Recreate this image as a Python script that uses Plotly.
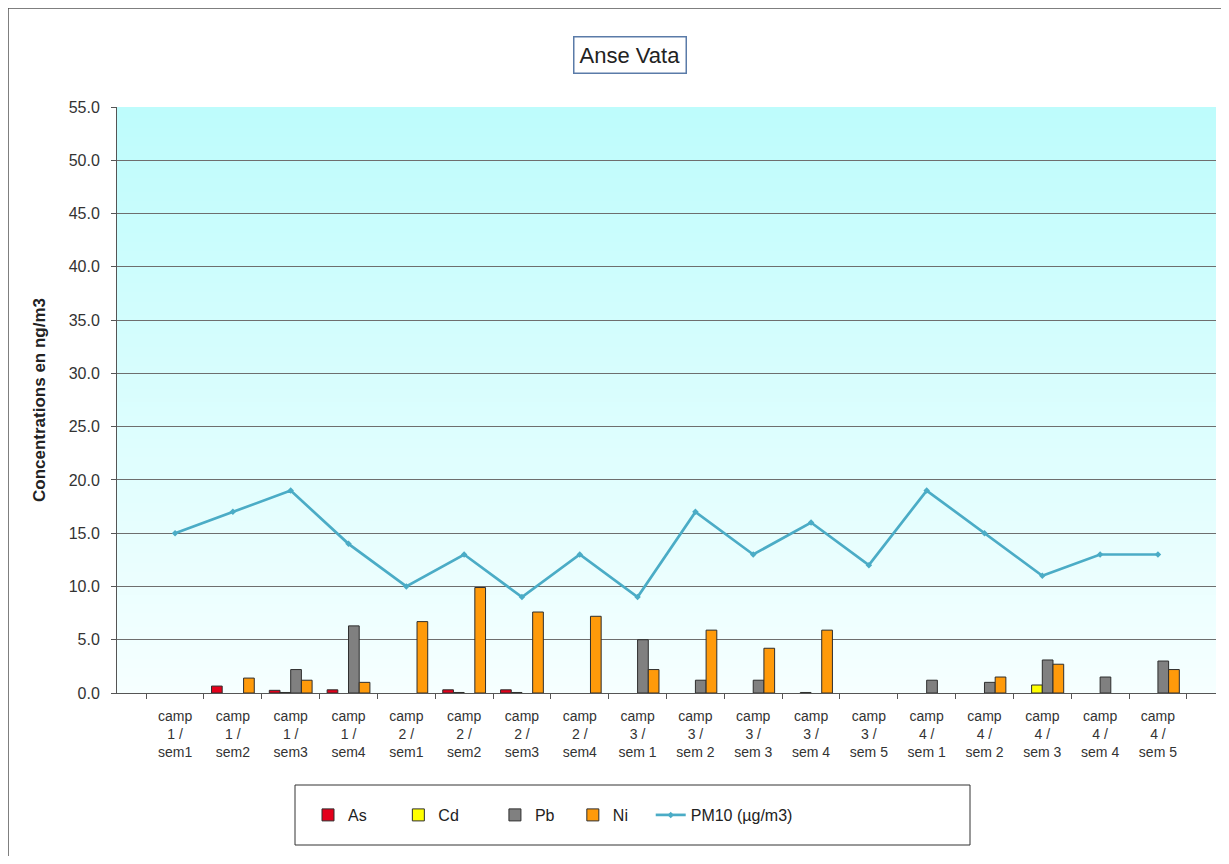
import base64, struct, zlib
import plotly.graph_objects as go

categories = [
    "camp<br>1 /<br>sem1", "camp<br>1 /<br>sem2", "camp<br>1 /<br>sem3", "camp<br>1 /<br>sem4",
    "camp<br>2 /<br>sem1", "camp<br>2 /<br>sem2", "camp<br>2 /<br>sem3", "camp<br>2 /<br>sem4",
    "camp<br>3 /<br>sem 1", "camp<br>3 /<br>sem 2", "camp<br>3 /<br>sem 3", "camp<br>3 /<br>sem 4",
    "camp<br>3 /<br>sem 5", "camp<br>4 /<br>sem 1", "camp<br>4 /<br>sem 2", "camp<br>4 /<br>sem 3",
    "camp<br>4 /<br>sem 4", "camp<br>4 /<br>sem 5",
]
series_names = ["As", "Cd", "Pb", "Ni", "PM10 (µg/m3)"]
as_vals = [None, 0.65, 0.25, 0.3, None, 0.3, 0.3, None, None, None, None, None, None, None, None, None, None, None]
cd_vals = [None, None, 0.05, None, None, 0.05, 0.05, None, None, None, None, 0.05, None, None, None, 0.75, None, None]
pb_vals = [None, None, 2.2, 6.3, None, None, None, None, 5.0, 1.2, 1.2, None, None, 1.2, 1.0, 3.1, 1.5, 3.0]
ni_vals = [None, 1.4, 1.2, 1.0, 6.7, 9.9, 7.6, 7.2, 2.2, 5.9, 4.2, 5.9, None, None, 1.5, 2.7, None, 2.2]
pm10_vals = [15, 17, 19, 14, 10, 13, 9, 13, 9, 17, 13, 16, 12, 19, 15, 11, 13, 13]
y_ticks = [0, 5, 10, 15, 20, 25, 30, 35, 40, 45, 50, 55]

OFF = 8  # page body margin
W, H = 1213, 848
ML, MR, MT, MB = 117 - OFF, W - (1216 - OFF), 107 - OFF, H - (693 - OFF)
PW, PH = W - ML - MR, H - MT - MB


def px(x):  # screenshot pixel -> paper x
    return (x - OFF - ML) / PW


def py(y):  # screenshot pixel -> paper y
    return (H - MB - (y - OFF)) / PH


def gradient_png(top, bottom, n=128):
    rows = b""
    for i in range(n):
        t = i / (n - 1)
        c = bytes(int(round(top[k] + (bottom[k] - top[k]) * t)) for k in range(3))
        rows += b"\x00" + c
    def chunk(tag, data):
        return struct.pack(">I", len(data)) + tag + data + struct.pack(">I", zlib.crc32(tag + data) & 0xffffffff)
    png = b"\x89PNG\r\n\x1a\n"
    png += chunk(b"IHDR", struct.pack(">IIBBBBB", 1, n, 8, 2, 0, 0, 0))
    png += chunk(b"IDAT", zlib.compress(rows))
    png += chunk(b"IEND", b"")
    return "data:image/png;base64," + base64.b64encode(png).decode()


bg = gradient_png((190, 252, 252), (246, 255, 255))
pad = ["\u00a0" * 6, "\u00a0" * 7, "\u00a0" * 3, "\u00a0" * 4, ""]  # legend spacing

fig = go.Figure()
line = dict(color="#2e2e2e", width=1)
fig.add_bar(x=categories, y=as_vals, name=series_names[0] + pad[0], marker=dict(color="#e3001b", line=line))
fig.add_bar(x=categories, y=cd_vals, name=series_names[1] + pad[1], marker=dict(color="#ffff00", line=line))
fig.add_bar(x=categories, y=pb_vals, name=series_names[2] + pad[2], marker=dict(color="#808080", line=line))
fig.add_bar(x=categories, y=ni_vals, name=series_names[3] + pad[3], marker=dict(color="#ff9a0a", line=line))
fig.add_scatter(x=categories, y=pm10_vals, name=series_names[4], mode="lines+markers",
                line=dict(color="#4bacc6", width=2.7),
                marker=dict(symbol="diamond", size=5, color="#4bacc6"))

fig.update_layout(
    width=W, height=H,
    margin=dict(l=ML, r=MR, t=MT, b=MB),
    paper_bgcolor="white",
    plot_bgcolor="rgba(0,0,0,0)",
    font=dict(family="Liberation Sans, Arial, sans-serif", size=14, color="#333333"),
    barmode="group", bargap=0.26, bargroupgap=0,
    showlegend=True,
    legend=dict(orientation="h", x=px(553), xanchor="center", y=py(815), yanchor="middle",
                borderwidth=0, bgcolor="rgba(0,0,0,0)",
                font=dict(size=16, color="#222222"), itemwidth=30, traceorder="normal"),
    images=[dict(source=bg, xref="paper", yref="paper", x=0, y=1, sizex=1, sizey=1,
                 sizing="stretch", layer="below", xanchor="left", yanchor="top")],
    annotations=[dict(text="Anse Vata", xref="paper", yref="paper", x=px(630), y=py(55),
                      xanchor="center", yanchor="middle", showarrow=False,
                      font=dict(size=22, color="#222222"), bordercolor="#5a7ba8",
                      borderwidth=1.5, borderpad=5, bgcolor="white")],
    shapes=[
        dict(type="rect", xref="paper", yref="paper", x0=px(8), x1=px(1260), y0=py(8), y1=py(900),
             line=dict(color="#555555", width=1.5), layer="below"),
        dict(type="rect", xref="paper", yref="paper", x0=px(295), x1=px(970), y0=py(785), y1=py(845),
             line=dict(color="#333333", width=1), fillcolor="white", layer="below"),
    ],
)
fig.update_xaxes(type="category", tickson="boundaries", ticks="outside", ticklen=5,
                 tickcolor="#555555", showline=True, linecolor="#555555", linewidth=1,
                 showgrid=False, tickfont=dict(size=14, color="#333333"), ticklabelstandoff=10)
fig.update_yaxes(range=[0, 55], tickvals=y_ticks, tickformat=".1f", ticks="outside", ticklen=5,
                 tickcolor="#555555", showline=True, linecolor="#555555", linewidth=1,
                 showgrid=True, gridcolor="#6e6e6e", gridwidth=1, zeroline=False,
                 tickfont=dict(size=16, color="#333333"), ticklabelstandoff=8,
                 title=dict(text="<b>Concentrations en ng/m3</b>", font=dict(size=17, color="#222222"),
                            standoff=18))

fig.write_html("out.html")
